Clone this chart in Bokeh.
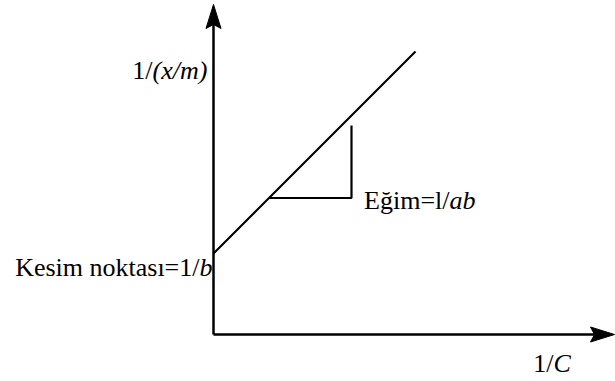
from bokeh.plotting import figure
from bokeh.models import Range1d
from bokeh.core.properties import value
from bokeh.embed import file_html
from bokeh.resources import INLINE

# Linearised Langmuir isotherm: 1/(x/m) against 1/C
intercept = 81.0          # 1/b, where the line meets the vertical axis
slope = 1.0               # 1/ab
line_x = [0.0, 202.0]     # span of 1/C covered by the line
line_y = [intercept + slope * x for x in line_x]

# slope triangle under the line
tri_y_base = 136.5
tri_x_right = 138.0
tri_y_top = 209.0
tri_x_left = (tri_y_base - intercept) / slope

# axis extents
y_axis_top = 330.0
x_axis_end = 401.0
head_len = 24.0
head_w = 15.0
notch = 4.0

FONT = value("Liberation Serif")
FS = "26px"

p = figure(width=615, height=381, output_backend="svg", toolbar_location=None,
           x_range=Range1d(-213, 402), y_range=Range1d(-47, 334),
           min_border=0, outline_line_color=None)
p.axis.visible = False
p.grid.visible = False
p.background_fill_color = "white"
p.border_fill_color = "white"

# axes with arrowheads
p.line([0, 0], [0, y_axis_top - head_len + notch], line_color="black", line_width=2.5)
p.line([0, x_axis_end - head_len + notch], [0, 0], line_color="black", line_width=2.5)
p.patch([0, -head_w / 2, 0, head_w / 2],
        [y_axis_top, y_axis_top - head_len, y_axis_top - head_len + notch, y_axis_top - head_len],
        color="black")
p.patch([x_axis_end, x_axis_end - head_len, x_axis_end - head_len + notch, x_axis_end - head_len],
        [0, head_w / 2, 0, -head_w / 2],
        color="black")

# regression line
p.line(line_x, line_y, line_color="black", line_width=2.2)

# slope triangle
p.line([tri_x_left, tri_x_right, tri_x_right], [tri_y_base, tri_y_base, tri_y_top],
       line_color="black", line_width=2.2)


def label(x, y, txt, italic=False, align="left"):
    p.text([x], [y], text=[txt], text_font=FONT, text_font_size=FS,
           text_font_style="italic" if italic else "normal",
           text_align=align, text_baseline="alphabetic", text_color="black")


# vertical axis title
label(-61, 264, "1/", align="right")
label(-61, 264, "(x/m)", italic=True)

# intercept annotation
label(-14, 67, "Kesim noktası=1/", align="right")
label(-14, 67, "b", italic=True)

# slope annotation
label(236, 134, "Eğim=l/", align="right")
label(236, 134, "ab", italic=True)

# horizontal axis title
label(340, -29, "1/", align="right")
label(340, -29, "C", italic=True)

open("out.html", "w").write(file_html(p, INLINE))
